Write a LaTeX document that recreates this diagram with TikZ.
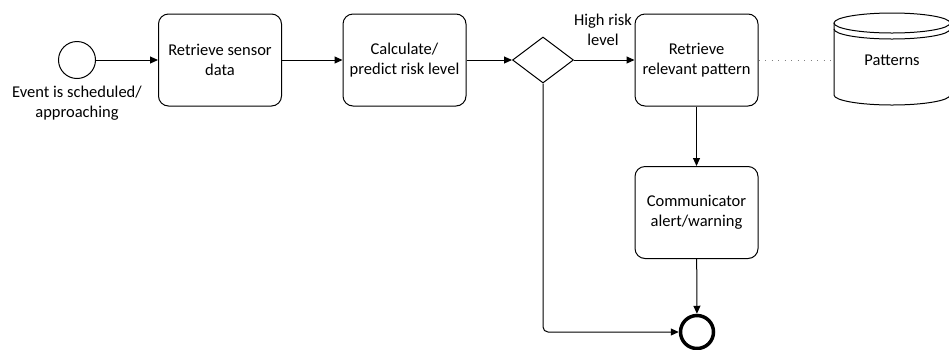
\documentclass[tikz,border=0pt]{standalone}
\usepackage{fontspec}
\setmainfont{Carlito}
\usetikzlibrary{arrows.meta,shapes.geometric}
\begin{document}
\begin{tikzpicture}[x=1pt,y=-1pt,
  every node/.style={font=\fontsize{16.5}{20}\selectfont},
  task/.style={draw,line width=1pt,rounded corners=10pt,minimum width=123pt,minimum height=92pt,align=center,inner sep=2pt},
  flow/.style={line width=1pt,-{Triangle[length=8pt,width=7pt]}},
  lbl/.style={align=center,inner sep=0pt}]
\useasboundingbox (0,0) rectangle (949,349);
\node[draw,circle,line width=1pt,minimum size=37pt,inner sep=0pt] (start) at (77,60) {};
\node[lbl] (startlbl) at (77,103) {Event is scheduled/\\approaching};
\node[task] (t1) at (220,60) {Retrieve sensor\\data};
\node[task] (t2) at (404.5,60) {Calculate/\\predict risk level};
\node[draw,diamond,line width=1pt,minimum width=61pt,minimum height=46pt,inner sep=0pt,aspect=1.3] (gw) at (543,60) {};
\node[task] (t3) at (696.5,60) {Retrieve\\relevant pattern};
\node[task] (t4) at (696.5,212.5) {Communicator\\alert/warning};
\node[draw,circle,line width=3.5pt,minimum size=33pt,inner sep=0pt] (end) at (697,332) {};
\node[lbl] (hr) at (603,30) {High risk\\level};
% cylinder
\draw[line width=1pt] (834,23) -- (834,95) arc[start angle=180,end angle=0,x radius=58,y radius=10] -- (950,23);
\draw[line width=1pt] (892,23) ellipse[x radius=58,y radius=10];
\draw[line width=1pt] (834,29) arc[start angle=180,end angle=0,x radius=58,y radius=10];
\node[lbl] (pat) at (892,60) {Patterns};
\coordinate (patl) at (834,60);
\draw[line width=1pt,gray,dash pattern=on 1pt off 5.5pt] (t3.east) -- (patl);
% flows
\draw[flow] (start) -- (t1);
\draw[flow] (t1) -- (t2);
\draw[flow] (t2) -- (gw.west);
\draw[flow] (gw.east) -- (t3);
\draw[flow] (t3) -- (t4);
\draw[flow] (t4) -- (end);
\draw[flow,rounded corners=5pt] (gw.south) |- (end.west);
\end{tikzpicture}
\end{document}
